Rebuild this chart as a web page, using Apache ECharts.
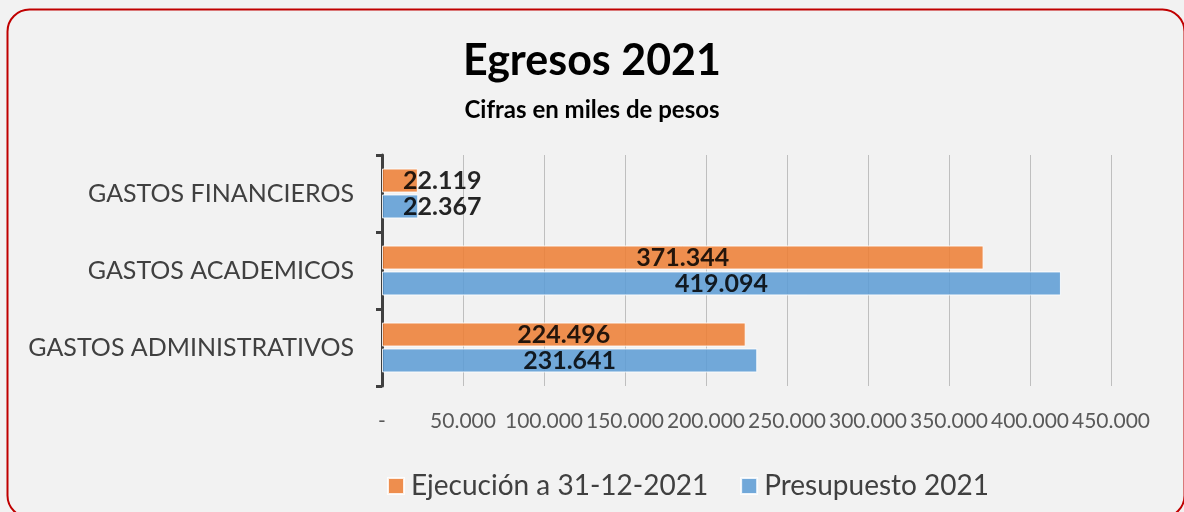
<!DOCTYPE html>
<html>
<head>
<meta charset="utf-8">
<script src="https://cdn.jsdelivr.net/npm/echarts@6/dist/echarts.min.js"></script>
<style>
html, body { margin: 0; padding: 0; background: #f2f2f2; }
#chart { width: 1184px; height: 512px; }
</style>
</head>
<body>
<div id="chart"></div>
<script>
// datos (miles de pesos)
var categorias = ["GASTOS FINANCIEROS", "GASTOS ACADEMICOS", "GASTOS ADMINISTRATIVOS"];
var ejecucion = [22119, 371344, 224496];
var presupuesto = [22367, 419094, 231641];
var nombres = ["Ejecución a 31-12-2021", "Presupuesto 2021"];

function fmt(v) {
	if (v === 0) return "-";
	return String(v).replace(/\B(?=(\d{3})+(?!\d))/g, ".");
}

// etiquetas pequeñas se corren hacia la derecha
function datos(arr) {
	return arr.map(function (v) {
		if (v < 50000) {
			return { value: v, label: { position: "insideLeft", distance: 21 } };
		}
		return v;
	});
}

var chart = echarts.init(document.getElementById("chart"));
var font = "Lato";
var option = {
	backgroundColor: "#f2f2f2",
	textStyle: { fontFamily: font },
	title: [
		{
			text: "Egresos 2021",
			left: "center",
			top: 35,
			textStyle: { fontSize: 43, fontWeight: "bold", color: "#000", fontFamily: font },
		},
		{
			text: "Cifras en miles de pesos",
			left: "center",
			top: 93,
			textStyle: { fontSize: 24, fontWeight: "bold", color: "#000", fontFamily: font },
		},
	],
	graphic: [
		{
			type: "rect",
			shape: { x: 7.5, y: 9.5, width: 1177, height: 508, r: 22 },
			style: { fill: "none", stroke: "#c00000", lineWidth: 2 },
			silent: true,
		},
	],
	legend: {
		data: nombres,
		bottom: 7,
		left: 382,
		itemWidth: 16,
		itemHeight: 16,
		itemGap: 32,
		icon: "rect",
		textStyle: { fontSize: 28, color: "#404040", fontFamily: font, padding: [0, 0, 0, 2] },
	},
	grid: {
		left: 382,
		right: 73,
		top: 155,
		bottom: 126,
	},
	xAxis: {
		type: "value",
		min: 0,
		max: 450000,
		interval: 50000,
		axisLine: { show: false },
		axisTick: { show: false },
		splitLine: { show: true, lineStyle: { color: "#bfbfbf", width: 1 } },
		axisLabel: {
			formatter: fmt,
			fontSize: 21,
			color: "#595959",
			margin: 25,
		},
	},
	yAxis: {
		type: "category",
		inverse: true,
		data: categorias,
		axisLine: { show: true, lineStyle: { color: "#404040", width: 3 } },
		axisTick: { show: true, length: 6, lineStyle: { color: "#404040", width: 3 } },
		axisLabel: { fontSize: 25, color: "#404040", margin: 28 },
	},
	series: [
		{
			name: nombres[0],
			type: "bar",
			data: datos(ejecucion),
			barWidth: 24,
			barGap: "8%",
			itemStyle: { color: "#ed7d31", opacity: 0.85, borderColor: "#ffffff", borderWidth: 1 },
			label: {
				show: true,
				position: "inside",
				formatter: function (p) { return fmt(p.value); },
				fontSize: 25,
				fontWeight: "bold",
				color: "#000",
				fontFamily: font,
			},
		},
		{
			name: nombres[1],
			type: "bar",
			data: datos(presupuesto),
			barWidth: 24,
			barGap: "8%",
			itemStyle: { color: "#5b9bd5", opacity: 0.85, borderColor: "#ffffff", borderWidth: 1 },
			label: {
				show: true,
				position: "inside",
				formatter: function (p) { return fmt(p.value); },
				fontSize: 25,
				fontWeight: "bold",
				color: "#000",
				fontFamily: font,
			},
		},
	],
};
chart.setOption(option);
</script>
</body>
</html>
